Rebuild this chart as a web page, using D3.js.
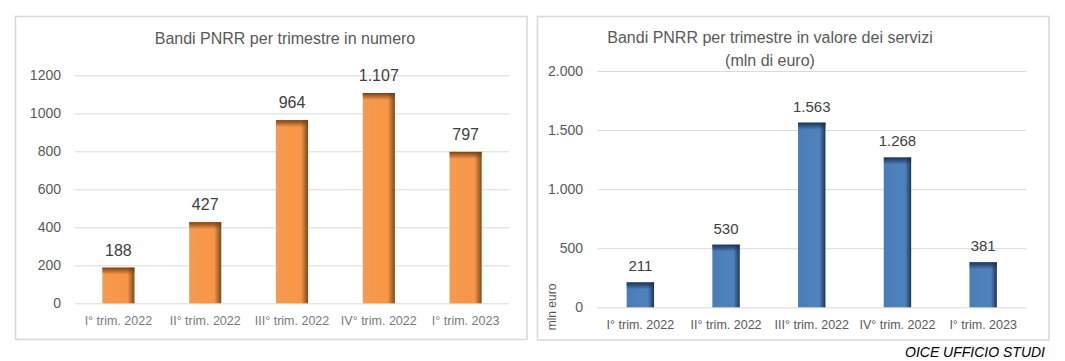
<!DOCTYPE html>
<html>
<head>
<meta charset="utf-8">
<script src="https://cdn.jsdelivr.net/npm/d3@7/dist/d3.min.js"></script>
<style>
  html, body { margin: 0; padding: 0; background: #fff; }
  svg { display: block; font-family: "Liberation Sans", Arial, sans-serif; }
</style>
</head>
<body>
<svg id="chart" width="1065" height="361"></svg>
<script>
// ---- data ----
const categories = ["I° trim. 2022", "II° trim. 2022", "III° trim. 2022", "IV° trim. 2022", "I° trim. 2023"];
const numeroValues = [188, 427, 964, 1107, 797];
const valoreValues = [211, 530, 1563, 1268, 381];
const numeroTicks = [0, 200, 400, 600, 800, 1000, 1200];
const valoreTicks = [0, 500, 1000, 1500, 2000];
const leftTitle = ["Bandi PNRR per trimestre in numero"];
const rightTitle = ["Bandi PNRR per trimestre in valore dei servizi", "(mln di euro)"];
const rightAxisTitle = "mln euro";
const sourceText = "OICE UFFICIO STUDI";

const it = d3.formatLocale({decimal: ",", thousands: ".", grouping: [3], currency: ["€", ""]});
const fmtDot = it.format(",");
const fmtPlain = d3.format("d");

const svg = d3.select("#chart");
const defs = svg.append("defs");

function makeGradients(id, light, mid, dark, shadow) {
  const h = defs.append("linearGradient").attr("id", id + "-h")
    .attr("x1", "0%").attr("x2", "100%").attr("y1", "0%").attr("y2", "0%");
  h.append("stop").attr("offset", "0%").attr("stop-color", light);
  h.append("stop").attr("offset", "55%").attr("stop-color", mid);
  h.append("stop").attr("offset", "78%").attr("stop-color", mid);
  h.append("stop").attr("offset", "100%").attr("stop-color", dark);
  const v = defs.append("linearGradient").attr("id", id + "-v")
    .attr("x1", "0%").attr("x2", "0%").attr("y1", "0%").attr("y2", "100%");
  v.append("stop").attr("offset", "0%").attr("stop-color", shadow).attr("stop-opacity", 0.95);
  v.append("stop").attr("offset", "100%").attr("stop-color", shadow).attr("stop-opacity", 0);
}
makeGradients("org", "#f49b52", "#f79646", "#7c4a1c", "#6e3f15");
makeGradients("blu", "#4a7cb8", "#4f81bd", "#1d3655", "#1b2f4a");

function panel(cfg) {
  const g = svg.append("g");
  // frame
  g.append("rect")
    .attr("x", cfg.frame[0]).attr("y", cfg.frame[1])
    .attr("width", cfg.frame[2]).attr("height", cfg.frame[3])
    .attr("fill", "#fff").attr("stroke", "#d9d9d9").attr("stroke-width", 1.6);

  const x = d3.scaleBand().domain(categories).range(cfg.xRange).paddingInner(cfg.pad).paddingOuter(cfg.pad / 2);
  const y = d3.scaleLinear().domain([0, d3.max(cfg.ticks)]).range(cfg.yRange);

  // grid
  const grid = d3.axisLeft(y).tickValues(cfg.ticks).tickSize(-(cfg.xRange[1] - cfg.xRange[0])).tickFormat("");
  const gg = g.append("g").attr("transform", `translate(${cfg.xRange[0]},0)`).call(grid);
  gg.select(".domain").remove();
  gg.selectAll("line").attr("stroke", "#d9d9d9").attr("stroke-width", 1);

  // y tick labels
  const ya = d3.axisLeft(y).tickValues(cfg.ticks).tickSize(0).tickPadding(0).tickFormat(cfg.tickFmt);
  const yg = g.append("g").attr("transform", `translate(${cfg.yLabelX},0)`).call(ya);
  yg.select(".domain").remove();
  yg.selectAll("text").attr("font-size", 14).attr("fill", "#595959")
    .attr("font-family", "'Liberation Sans', Arial, sans-serif");

  // x labels
  const xa = d3.axisBottom(x).tickSize(0).tickPadding(0);
  const xg = g.append("g").attr("transform", `translate(0,${cfg.xLabelY})`).call(xa);
  xg.select(".domain").remove();
  xg.selectAll("text").attr("font-size", 12.5).attr("fill", cfg.xLabelColor)
    .attr("font-family", "'Liberation Sans', Arial, sans-serif").attr("dy", "0.32em");

  // bars
  const bars = g.append("g").selectAll("g").data(cfg.values).join("g");
  bars.append("rect")
    .attr("x", (d, i) => x(categories[i]))
    .attr("y", d => y(d))
    .attr("width", x.bandwidth())
    .attr("height", d => y(0) - y(d))
    .attr("fill", `url(#${cfg.grad}-h)`);
  bars.append("rect")
    .attr("x", (d, i) => x(categories[i]))
    .attr("y", d => y(d))
    .attr("width", x.bandwidth())
    .attr("height", d => Math.min(7, y(0) - y(d)))
    .attr("fill", `url(#${cfg.grad}-v)`);

  // value labels
  g.append("g").selectAll("text").data(cfg.values).join("text")
    .attr("x", (d, i) => x(categories[i]) + x.bandwidth() / 2)
    .attr("y", d => y(d) - cfg.labelOff)
    .attr("text-anchor", "middle")
    .attr("font-size", cfg.labelSize)
    .attr("fill", "#404040")
    .text(d => fmtDot(d));

  // title
  g.append("g").selectAll("text").data(cfg.title).join("text")
    .attr("x", cfg.titleX)
    .attr("y", (d, i) => cfg.titleY + i * 23)
    .attr("text-anchor", "middle")
    .attr("font-size", 16)
    .attr("fill", "#595959")
    .text(d => d);
  return g;
}

panel({
  frame: [15.5, 16.5, 511.5, 323],
  xRange: [75, 509], yRange: [303.3, 75.3], pad: 0.63,
  ticks: numeroTicks, tickFmt: fmtPlain, values: numeroValues,
  yLabelX: 61, xLabelY: 321, xLabelColor: "#7a7a7a",
  grad: "org", labelOff: 12, labelSize: 16,
  title: leftTitle, titleX: 285, titleY: 44
});

const rp = panel({
  frame: [537.5, 16.5, 511.5, 323.5],
  xRange: [597.5, 1026], yRange: [307.3, 71], pad: 0.68,
  ticks: valoreTicks, tickFmt: fmtDot, values: valoreValues,
  yLabelX: 583, xLabelY: 325, xLabelColor: "#595959",
  grad: "blu", labelOff: 11, labelSize: 15,
  title: rightTitle, titleX: 770, titleY: 43
});

rp.append("text")
  .attr("transform", "translate(556,307) rotate(-90)")
  .attr("text-anchor", "middle")
  .attr("font-size", 12)
  .attr("fill", "#595959")
  .text(rightAxisTitle);

svg.append("text")
  .attr("x", 1045).attr("y", 357)
  .attr("text-anchor", "end")
  .attr("font-size", 14)
  .attr("font-style", "italic")
  .attr("fill", "#000")
  .text(sourceText);
</script>
</body>
</html>
